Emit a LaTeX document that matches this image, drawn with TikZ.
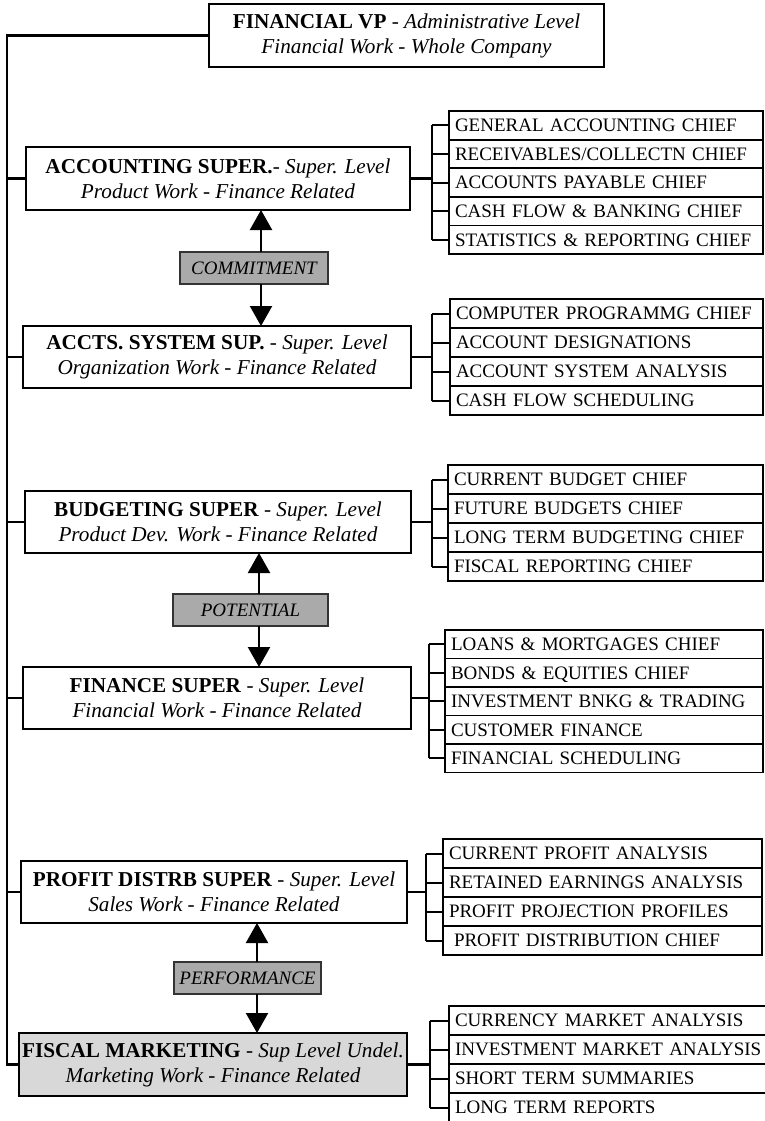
\documentclass[tikz,border=0pt]{standalone}
\usepackage{fontspec}
\setmainfont{Liberation Serif}
\usetikzlibrary{arrows.meta}

\newcommand\boxfont{\fontsize{21.2}{25}\selectfont}
\newcommand\rowfont{\fontsize{19}{22}\selectfont}
\newcommand\tagfont{\fontsize{19}{22}\selectfont\itshape}

\definecolor{tagfill}{RGB}{170,170,170}
\definecolor{leadfill}{RGB}{216,216,216}

\begin{document}
\begin{tikzpicture}[x=1pt,y=-1pt,
  every node/.style={inner sep=0pt, outer sep=0pt},
  mainbox/.style={draw, line width=2.2pt, align=center, font=\boxfont, fill=white},
  rowbox/.style={draw, line width=1.8pt, anchor=north west, font=\rowfont,
    text height=12.6pt, text depth=0pt, align=left, inner xsep=6pt},
  tagbox/.style={draw=black!80, line width=1.3pt, fill=tagfill, font=\tagfont,
    minimum height=32pt},
  conn/.style={line width=2.2pt},
  tick/.style={line width=2pt},
  dbl/.style={line width=2.2pt, -{Triangle[width=22pt,length=20pt]}}
]
\useasboundingbox (0,0) rectangle (765,1121);

% ---- main boxes ----
\node[mainbox, minimum width=395pt, minimum height=63pt] (vp) at (406.5,35.5)
  {\textbf{FINANCIAL VP} - \textit{Administrative Level}\\ \textit{Financial Work - Whole Company}};
\node[mainbox, minimum width=384pt, minimum height=63pt] (acc) at (218,178.5)
  {\textbf{ACCOUNTING SUPER.}- \textit{Super. Level}\\ \textit{Product Work - Finance Related}};
\node[mainbox, minimum width=388pt, minimum height=62pt] (sys) at (217,357)
  {\textbf{ACCTS. SYSTEM SUP.} - \textit{Super. Level}\\ \textit{Organization Work - Finance Related}};
\node[mainbox, minimum width=386pt, minimum height=62pt] (bud) at (218,522)
  {\textbf{BUDGETING SUPER} - \textit{Super. Level}\\ \textit{Product Dev. Work - Finance Related}};
\node[mainbox, minimum width=388pt, minimum height=62pt] (fin) at (217,698)
  {\textbf{FINANCE SUPER} - \textit{Super. Level}\\ \textit{Financial Work - Finance Related}};
\node[mainbox, minimum width=386pt, minimum height=62pt] (pro) at (214,892)
  {\textbf{PROFIT DISTRB SUPER} - \textit{Super. Level}\\ \textit{Sales Work - Finance Related}};
\node[mainbox, fill=leadfill, minimum width=388pt, minimum height=63pt] (fis) at (213,1064.5)
  {\textbf{FISCAL MARKETING} - \textit{Sup Level Undel.}\\ \textit{Marketing Work - Finance Related}};

% ---- spine on the left ----
\coordinate (spine) at (7,0);
\draw[conn] (vp.west) -| (fis.west -| spine) -- (fis.west);
\foreach \b in {acc,sys,bud,fin,pro}
  \draw[conn] (\b.west) -- (\b.west -| spine);

% ---- relation tags between pairs ----
\node[tagbox, minimum width=148pt] (com) at (254,268) {COMMITMENT};
\node[tagbox, minimum width=155pt] (pot) at (250.5,610) {POTENTIAL};
\node[tagbox, minimum width=147pt] (perf) at (247.5,978) {PERFORMANCE};

\draw[dbl] ([xshift=7pt]com.north) -- ([xshift=7pt]com.north |- acc.south);
\draw[dbl] ([xshift=7pt]com.south) -- ([xshift=7pt]com.south |- sys.north);
\draw[dbl] ([xshift=8.5pt]pot.north) -- ([xshift=8.5pt]pot.north |- bud.south);
\draw[dbl] ([xshift=8.5pt]pot.south) -- ([xshift=8.5pt]pot.south |- fin.north);
\draw[dbl] ([xshift=9.5pt]perf.north) -- ([xshift=9.5pt]perf.north |- pro.south);
\draw[dbl] ([xshift=9.5pt]perf.south) -- ([xshift=9.5pt]perf.south |- fis.north);

% ---- chief lists ----
% accounting
\foreach \t [count=\i] in {GENERAL ACCOUNTING CHIEF, RECEIVABLES/COLLECTN CHIEF,
    ACCOUNTS PAYABLE CHIEF, CASH FLOW \& BANKING CHIEF, STATISTICS \& REPORTING CHIEF}
  \node[rowbox, minimum width=314pt, minimum height=28.6pt, text width=302pt]
    (accL\i) at (449,{111+(\i-1)*28.6}) {\mbox{\t}};
% accounts system
\foreach \t [count=\i] in {COMPUTER PROGRAMMG CHIEF, ACCOUNT DESIGNATIONS,
    ACCOUNT SYSTEM ANALYSIS, CASH FLOW SCHEDULING}
  \node[rowbox, minimum width=313pt, minimum height=29pt, text width=301pt]
    (sysL\i) at (450,{299+(\i-1)*29}) {\mbox{\t}};
% budgeting
\foreach \t [count=\i] in {CURRENT BUDGET CHIEF, FUTURE BUDGETS CHIEF,
    LONG TERM BUDGETING CHIEF, FISCAL REPORTING CHIEF}
  \node[rowbox, minimum width=315pt, minimum height=29pt, text width=303pt]
    (budL\i) at (448,{465+(\i-1)*29}) {\mbox{\t}};
% finance
\foreach \t [count=\i] in {LOANS \& MORTGAGES CHIEF, BONDS \& EQUITIES CHIEF,
    INVESTMENT BNKG \& TRADING, CUSTOMER FINANCE, FINANCIAL SCHEDULING}
  \node[rowbox, minimum width=318pt, minimum height=28.5pt, text width=306pt]
    (finL\i) at (445,{630+(\i-1)*28.5}) {\mbox{\t}};
% profit distribution
\foreach \t [count=\i] in {CURRENT PROFIT ANALYSIS, RETAINED EARNINGS ANALYSIS,
    PROFIT PROJECTION PROFILES, \hspace{5pt}PROFIT DISTRIBUTION CHIEF}
  \node[rowbox, minimum width=319pt, minimum height=29pt, text width=307pt]
    (proL\i) at (443,{839+(\i-1)*29}) {\mbox{\t}};
% fiscal marketing
\foreach \t [count=\i] in {CURRENCY MARKET ANALYSIS, INVESTMENT MARKET ANALYSIS,
    SHORT TERM SUMMARIES, LONG TERM REPORTS}
  \node[rowbox, minimum width=318pt, minimum height=29pt, text width=306pt]
    (fisL\i) at (449,{1006+(\i-1)*29}) {\mbox{\t}};

% ---- brackets from each supervisor to its list ----
\coordinate (accB) at (432,0);
\coordinate (sysB) at (432,0);
\coordinate (budB) at (432,0);
\coordinate (finB) at (429,0);
\coordinate (proB) at (426,0);
\coordinate (fisB) at (430,0);

\draw[conn] (acc.east) -- (acc.east -| accB);
\draw[tick] (accL1.west -| accB) -- (accL5.west -| accB);
\foreach \i in {1,...,5} \draw[tick] (accL\i.west -| accB) -- (accL\i.west);

\draw[conn] (sys.east) -- (sys.east -| sysB);
\draw[tick] (sysL1.west -| sysB) -- (sysL4.west -| sysB);
\foreach \i in {1,...,4} \draw[tick] (sysL\i.west -| sysB) -- (sysL\i.west);

\draw[conn] (bud.east) -- (bud.east -| budB);
\draw[tick] (budL1.west -| budB) -- (budL4.west -| budB);
\foreach \i in {1,...,4} \draw[tick] (budL\i.west -| budB) -- (budL\i.west);

\draw[conn] (fin.east) -- (fin.east -| finB);
\draw[tick] (finL1.west -| finB) -- (finL5.west -| finB);
\foreach \i in {1,...,5} \draw[tick] (finL\i.west -| finB) -- (finL\i.west);

\draw[conn] (pro.east) -- (pro.east -| proB);
\draw[tick] (proL1.west -| proB) -- (proL4.west -| proB);
\foreach \i in {1,...,4} \draw[tick] (proL\i.west -| proB) -- (proL\i.west);

\draw[conn] (fis.east) -- (fis.east -| fisB);
\draw[tick] (fisL1.west -| fisB) -- (fisL4.west -| fisB);
\foreach \i in {1,...,4} \draw[tick] (fisL\i.west -| fisB) -- (fisL\i.west);
\end{tikzpicture}
\end{document}
